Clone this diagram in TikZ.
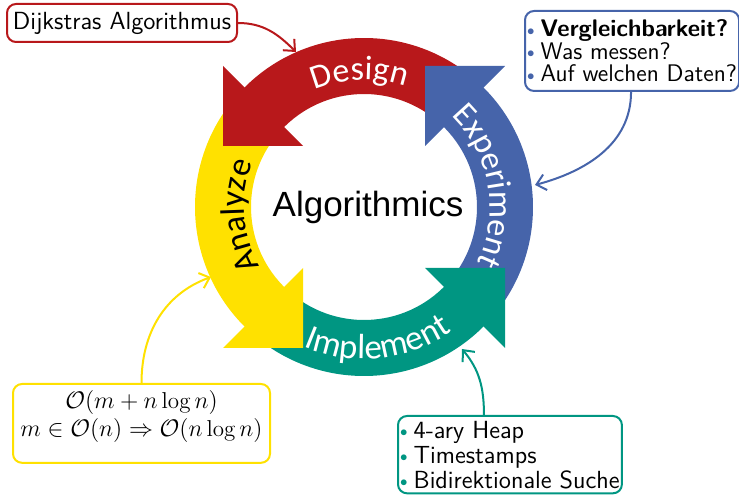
\documentclass[tikz,border=0pt]{standalone}
\usepackage{fontspec}
\usepackage{graphicx}
\usetikzlibrary{decorations.text,arrows.meta,calc}

\newfontfamily\ringfont{Carlito}
\newfontfamily\centerfont{Liberation Sans}

\definecolor{kitred}{RGB}{184,24,27}
\definecolor{kitblue}{RGB}{70,100,170}
\definecolor{kitgreen}{RGB}{0,150,130}
\definecolor{kityellow}{RGB}{255,225,0}

% small coloured bullet for the item lists
\newcommand\itemdot[1]{{\color{#1}\raisebox{0.7pt}{\scalebox{0.62}{$\bullet$}}}\hspace{3pt}}

\begin{document}
\begin{tikzpicture}[x=0.5pt,y=0.5pt,
  box/.style={draw=#1, line width=1pt, rounded corners=4.5pt, fill=white, inner sep=0pt},
  link/.style={draw=#1, line width=1pt, -{Straight Barb[length=4.5pt,width=8pt]}},
  ringlabel/.style={decorate, decoration={text along path, text align=center,
      text color=#1}},
]
\useasboundingbox (0,0) rectangle (739,-496);

% ---- cycle of four arrows ----
\coordinate (C) at (364,-207);
\def\Ro{169}
\def\Ri{113}
\def\ha{141}
\def\hb{61}

% arrow bodies (annular sectors)
\fill[kitred] ($(C)+(47:\Ro)$) arc[start angle=47,end angle=137,radius=\Ro]
  -- ($(C)+(137:\Ri)$) arc[start angle=137,end angle=47,radius=\Ri] -- cycle;
\fill[kityellow] ($(C)+(137:\Ro)$) arc[start angle=137,end angle=227,radius=\Ro]
  -- ($(C)+(227:\Ri)$) arc[start angle=227,end angle=137,radius=\Ri] -- cycle;
\fill[kitgreen] ($(C)+(227:\Ro)$) arc[start angle=227,end angle=317,radius=\Ro]
  -- ($(C)+(317:\Ri)$) arc[start angle=317,end angle=227,radius=\Ri] -- cycle;
\fill[kitblue] ($(C)+(-43:\Ro)$) arc[start angle=-43,end angle=47,radius=\Ro]
  -- ($(C)+(47:\Ri)$) arc[start angle=47,end angle=-43,radius=\Ri] -- cycle;

% arrow heads
\fill[kitred] ($(C)+(-\ha,\ha)$) -- ($(C)+(-\hb,\hb)$) -- ($(C)+(-\ha,\hb)$) -- cycle;
\fill[kitblue] ($(C)+(\ha,\ha)$) -- ($(C)+(\hb,\hb)$) -- ($(C)+(\hb,\ha)$) -- cycle;
\fill[kitgreen] ($(C)+(\hb,-\hb)$) -- ($(C)+(\ha,-\ha)$) -- ($(C)+(\ha,-\hb)$) -- cycle;
\fill[kityellow] ($(C)+(-\hb,-\hb)$) -- ($(C)+(-\ha,-\ha)$) -- ($(C)+(-\hb,-\ha)$) -- cycle;

% labels along the ring
\path[ringlabel=white, decoration={text={|\ringfont\fontsize{17}{20}\selectfont|Design}}]
  ($(C)+(152:127)$) arc[start angle=152,end angle=32,radius=127];
\path[ringlabel=white, decoration={text={|\ringfont\fontsize{17}{20}\selectfont|Experiment}}]
  ($(C)+(70:126)$) arc[start angle=70,end angle=-50,radius=126];
\path[ringlabel=black, decoration={text={|\ringfont\fontsize{17}{20}\selectfont|Analyze}}]
  ($(C)+(244:120)$) arc[start angle=244,end angle=124,radius=120];
\path[ringlabel=white, decoration={text={|\ringfont\fontsize{17.5}{20}\selectfont|Implement}}]
  ($(C)+(-144:152)$) arc[start angle=-144,end angle=-24,radius=152];

\node[font=\centerfont\fontsize{17.5}{20}\selectfont, anchor=base] (alg) at (368,-217) {Algorithmics};

% ---- annotation boxes ----
\node[box=kitred, minimum width=115pt, minimum height=19pt,
  font=\sffamily\fontsize{12.4}{13}\selectfont] (dij) at (122,-23) {Dijkstras Algorithmus};

\node[box=kitblue, anchor=north west, align=left, inner xsep=1.1pt, inner ysep=4.4pt,
  font=\sffamily\fontsize{12}{11.3}\selectfont] (exq) at (524,-10)
  {\itemdot{kitblue}\textbf{Vergleichbarkeit?}\\
   \itemdot{kitblue}Was messen?\\
   \itemdot{kitblue}Auf welchen Daten?};

\node[box=kityellow, minimum width=128.5pt, align=center, inner ysep=3.25pt,
  font=\fontsize{11.5}{14}\selectfont] (cplx) at (141.5,-383) [anchor=north]
  {$\mathcal{O}(m+n\log n)$\\
   $m\in\mathcal{O}(n)\Rightarrow\mathcal{O}(n\log n)$\rule[-9.9pt]{0pt}{9.9pt}};

\node[box=kitgreen, anchor=north west, align=left, inner xsep=1.1pt, inner ysep=2.4pt,
  font=\sffamily\fontsize{12.4}{12.5}\selectfont] (impl) at (397,-415)
  {\itemdot{kitgreen}4-ary Heap\\
   \itemdot{kitgreen}Timestamps\\
   \itemdot{kitgreen}Bidirektionale Suche};

% ---- connectors into the ring ----
\coordinate (t1) at (296,-52);
\coordinate (t2) at (535,-185);
\coordinate (t3) at (211,-277);
\coordinate (t4) at (462,-349);

\draw[link=kitred] (dij.east) to[out=0,in=135] (t1);
\draw[link=kitblue] ([xshift=-0.5pt]exq.south) to[out=-90,in=15] (t2);
\draw[link=kityellow] (cplx.north) to[out=90,in=200] (t3);
\draw[link=kitgreen] ([xshift=-13pt]impl.north) to[out=90,in=-50] (t4);
\end{tikzpicture}
\end{document}
